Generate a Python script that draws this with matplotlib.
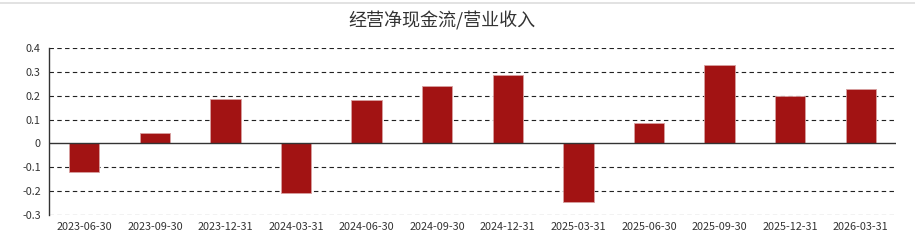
import numpy as np
from matplotlib import pyplot as plt
from matplotlib.ticker import FixedLocator

plt.rcParams['font.family'] = ['Noto Sans CJK SC', 'DejaVu Sans']

dates = ['2023-06-30', '2023-09-30', '2023-12-31', '2024-03-31', '2024-06-30', '2024-09-30',
         '2024-12-31', '2025-03-31', '2025-06-30', '2025-09-30', '2025-12-31', '2026-03-31']
ratio = [-0.119, 0.043, 0.187, -0.206, 0.182, 0.239, 0.287, -0.244, 0.084, 0.328, 0.200, 0.229]
yticks = [-0.3, -0.2, -0.1, 0, 0.1, 0.2, 0.3, 0.4]
ytick_labels = ['-0.3', '-0.2', '-0.1', '0', '0.1', '0.2', '0.3', '0.4']

fig = plt.figure(figsize=(9.15, 2.46), dpi=100)
ax = fig.add_axes([49 / 915, 31 / 246, 847 / 915, 167 / 246])

x = np.arange(len(dates))
ax.bar(x, ratio, width=0.43, color='#a21313', edgecolor='#d8a0a0', linewidth=0.6, zorder=3)

ax.set_xlim(-0.5, len(dates) - 0.5)
ax.set_ylim(-0.3, 0.4)
ax.yaxis.set_major_locator(FixedLocator(yticks))
ax.set_yticklabels(ytick_labels)
ax.set_xticks(x)
ax.set_xticklabels(dates)
ax.tick_params(axis='both', length=0, labelsize=7.8, colors='#333333')
ax.tick_params(axis='x', pad=5)
ax.tick_params(axis='y', pad=6)

for v in yticks:
    if v == 0:
        ax.axhline(0, color='#333333', linewidth=1, zorder=4)
    else:
        ax.axhline(v, color='#222222', linewidth=0.8, linestyle=(0, (4, 3)), zorder=1)

for s in ['top', 'right', 'bottom']:
    ax.spines[s].set_visible(False)
ax.spines['left'].set_color('#333333')
ax.spines['left'].set_linewidth(1)

fig.text(442 / 915, 1 - 21 / 246, '经营净现金流/营业收入', ha='center', va='center', fontsize=13, color='#333333')
fig.add_artist(plt.Line2D([0, 1], [1 - 2.5 / 246, 1 - 2.5 / 246], color='#dddddd', linewidth=1.2))

fig.savefig('out.png', dpi=100)
